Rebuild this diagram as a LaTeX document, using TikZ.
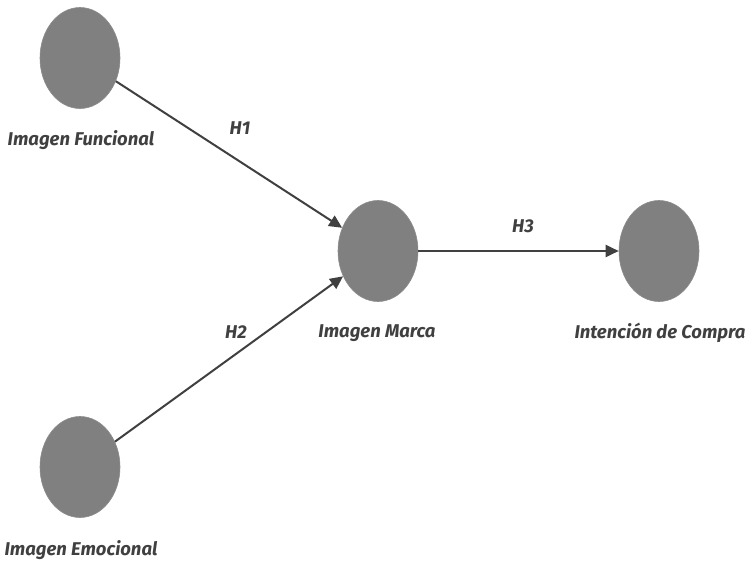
\documentclass[tikz,border=0pt]{standalone}
\usepackage{fontspec}
\setmainfont{Fira Sans}
\usetikzlibrary{shapes.geometric,arrows.meta}

\tikzset{
  construct/.style={ellipse,fill=black!50,draw=black!45,line width=0.6pt,minimum width=80pt,minimum height=101pt,inner sep=0pt},
  clabel/.style={text=black!75,font=\fontsize{18.5}{20}\selectfont\bfseries\itshape},
  path/.style={draw=black!75,line width=2pt,-{Triangle[length=13pt,width=12pt]}}
}

\begin{document}
\begin{tikzpicture}[x=1pt,y=-1pt]
  \useasboundingbox (0,0) rectangle (747,564);
  % constructs
  \node[construct] (func) at (80,58) {};
  \node[construct] (emoc) at (80,467) {};
  \node[construct] (marca) at (378,251) {};
  \node[construct] (compra) at (659,251) {};
  % names
  \node[clabel] (funclab) at (81,140) {Imagen Funcional};
  \node[clabel] (emoclab) at (81,550) {Imagen Emocional};
  \node[clabel] (marcalab) at (377,333) {Imagen Marca};
  \node[clabel] (compralab) at (660,333) {Intención de Compra};
  % hypotheses
  \draw[path] (func) -- (marca);
  \draw[path] (emoc) -- (marca);
  \draw[path] (marca) -- (compra);
  \node[clabel] (h1) at (240,128) {H1};
  \node[clabel] (h2) at (236,332) {H2};
  \node[clabel] (h3) at (523,226) {H3};
\end{tikzpicture}
\end{document}
